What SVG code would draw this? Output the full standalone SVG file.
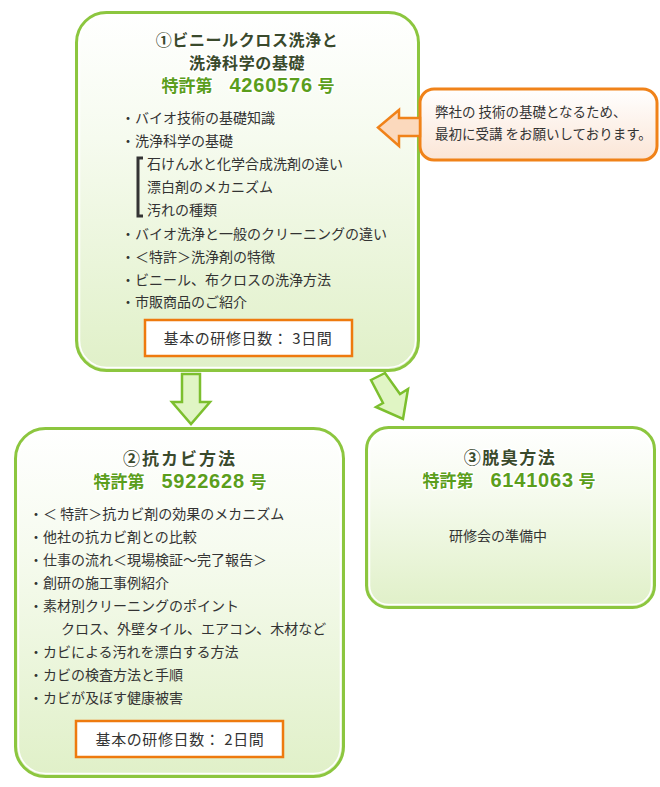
<svg xmlns="http://www.w3.org/2000/svg" width="660" height="787" viewBox="0 0 660 787">
<defs>
<linearGradient id="gbox" x1="0" y1="0" x2="0" y2="1">
<stop offset="0" stop-color="#ffffff"/>
<stop offset="0.35" stop-color="#f6fbef"/>
<stop offset="1" stop-color="#e0f0c8"/>
</linearGradient>
<linearGradient id="gcall" x1="0" y1="0" x2="0" y2="1">
<stop offset="0" stop-color="#ffffff"/>
<stop offset="1" stop-color="#fbe5d6"/>
</linearGradient>
<style>
.box{fill:url(#gbox);stroke:#8cc63f;stroke-width:3}
.inner{fill:none;stroke:#ffffff;stroke-width:1.5}
.t{font-family:"Noto Sans CJK JP","Noto Sans",sans-serif;fill:#333333;font-size:14px}
.c{font-family:"Noto Sans CJK JP","Noto Sans",sans-serif;fill:#333333;font-size:13.5px}
.title{font-family:"Noto Sans CJK JP","Noto Sans",sans-serif;fill:#3a4a2c;font-size:17px;font-weight:bold;text-anchor:middle;stroke:#ffffff;stroke-width:3;paint-order:stroke;stroke-linejoin:round}
.title2{font-size:16px;letter-spacing:0.6px}
.pat{font-family:"Liberation Sans","Noto Sans CJK JP",sans-serif;fill:#5b9e1c;font-size:17px;font-weight:bold;text-anchor:middle;stroke:#ffffff;stroke-width:3;paint-order:stroke;stroke-linejoin:round}
.num{font-size:20px;letter-spacing:0.8px}
.days{fill:#ffffff;stroke:#ee7a0e;stroke-width:2.5}
.dt{font-family:"Noto Sans CJK JP","Noto Sans",sans-serif;fill:#333333;font-size:15px;letter-spacing:0.6px;text-anchor:middle}
.garrow{fill:#e0f5c4;stroke:#7cbf2e;stroke-width:2.5;stroke-linejoin:miter}
</style>
</defs>

<g id="node1">
<rect class="box" x="76.5" y="12.5" width="342" height="358" rx="30"/>
<rect class="inner" x="79.5" y="15.5" width="336" height="352" rx="27"/>
<text class="title title2" x="247" y="46">①ビニールクロス洗浄と</text>
<text class="title title2" x="247" y="69">洗浄科学の基礎</text>
<text class="pat" x="248" y="92">特許第　<tspan class="num">4260576</tspan> 号</text>
<text class="t" x="121" y="123">・バイオ技術の基礎知識</text>
<text class="t" x="121" y="146">・洗浄科学の基礎</text>
<text class="t" x="147" y="169">石けん水と化学合成洗剤の違い</text>
<text class="t" x="147" y="192">漂白剤のメカニズム</text>
<text class="t" x="147" y="215">汚れの種類</text>
<path d="M143,158 H138 V216 H143" fill="none" stroke="#333333" stroke-width="3"/>
<text class="t" x="121" y="239">・バイオ洗浄と一般のクリーニングの違い</text>
<text class="t" x="121" y="262">・＜特許＞洗浄剤の特徴</text>
<text class="t" x="121" y="285">・ビニール、布クロスの洗浄方法</text>
<text class="t" x="121" y="307">・市販商品のご紹介</text>
<rect class="days" x="145" y="320" width="207" height="36"/>
<text class="dt" x="248" y="344">基本の研修日数： 3日間</text>
</g>

<g id="callout">
<rect x="420" y="89" width="237" height="71" rx="14" fill="url(#gcall)" stroke="#f08219" stroke-width="3"/>
<text class="c" x="435" y="117">弊社の 技術の基礎となるため、</text>
<text class="c" x="435" y="139">最初に受講 をお願いしております。</text>
</g>

<g id="node2">
<rect class="box" x="15.5" y="428.5" width="328" height="348" rx="30"/>
<rect class="inner" x="18.5" y="431.5" width="322" height="342" rx="27"/>
<text class="title" x="180" y="465" letter-spacing="2">②抗カビ方法</text>
<text class="pat" x="180" y="488">特許第　<tspan class="num">5922628</tspan> 号</text>
<text class="t" x="29" y="519">・＜ 特許＞抗カビ剤の効果のメカニズム</text>
<text class="t" x="29" y="542">・他社の抗カビ剤との比較</text>
<text class="t" x="29" y="565">・仕事の流れ＜現場検証～完了報告＞</text>
<text class="t" x="29" y="588">・創研の施工事例紹介</text>
<text class="t" x="29" y="611">・素材別クリーニングのポイント</text>
<text class="t" x="61" y="634">クロス、外壁タイル、エアコン、木材など</text>
<text class="t" x="29" y="657">・カビによる汚れを漂白する方法</text>
<text class="t" x="29" y="680">・カビの検査方法と手順</text>
<text class="t" x="29" y="703">・カビが及ぼす健康被害</text>
<rect class="days" x="76" y="721" width="207" height="36"/>
<text class="dt" x="180" y="745">基本の研修日数： 2日間</text>
</g>

<g id="node3">
<rect class="box" x="366.5" y="427.5" width="288" height="180" rx="22"/>
<rect class="inner" x="369.5" y="430.5" width="282" height="174" rx="19"/>
<text class="title" x="510" y="464" letter-spacing="1.5">③脱臭方法</text>
<text class="pat" x="509" y="487">特許第　<tspan class="num">6141063</tspan> 号</text>
<text class="t" x="449" y="541">研修会の準備中</text>
</g>

<g id="connectors">
<polygon class="garrow" points="182,374 200,374 200,402 210,402 191,424 172,402 182,402"/>
<polygon class="garrow" points="371,380 385,373 400,394 408,389 403,419 376,407 383,403"/>
<polygon points="420,118 399,118 399,110 378,127.5 399,146 399,136 420,136" fill="#fbd9bd" stroke="#f08219" stroke-width="2.5"/>
</g>
</svg>
